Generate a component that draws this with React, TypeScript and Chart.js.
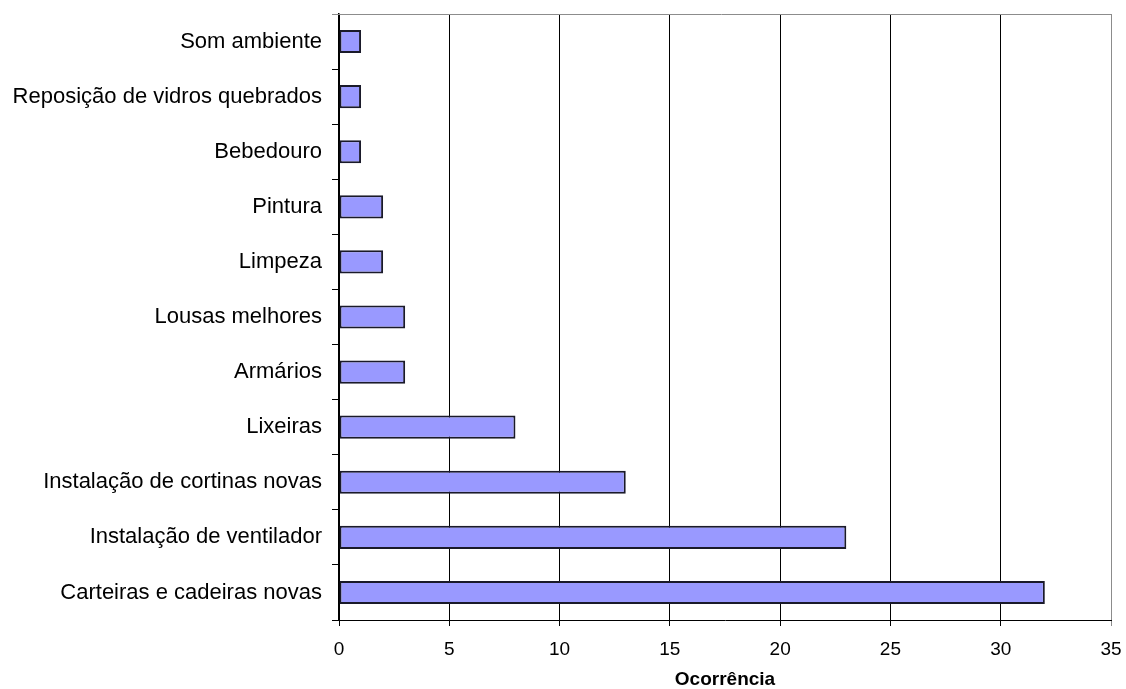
import React, { useEffect, useRef } from "react";
import { Chart, registerables } from "chart.js";

Chart.register(...registerables);

// Requested improvements and how many times each was mentioned
const categories = [
  "Som ambiente",
  "Reposição de vidros quebrados",
  "Bebedouro",
  "Pintura",
  "Limpeza",
  "Lousas melhores",
  "Armários",
  "Lixeiras",
  "Instalação de cortinas novas",
  "Instalação de ventilador",
  "Carteiras e cadeiras novas",
];

const occurrences = [1, 1, 1, 2, 2, 3, 3, 8, 13, 23, 32];

const axisMin = 0;
const axisMax = 35;
const axisStep = 5;
const axisTitle = "Ocorrência";

const FONT = "'Liberation Sans', Arial, Helvetica, sans-serif";

// Grey frame line along the top of the plot area
const topFrame = {
  id: "topFrame",
  afterDraw(chart: any) {
    const { ctx, chartArea } = chart;
    ctx.save();
    ctx.strokeStyle = "#8c8c8c";
    ctx.lineWidth = 1;
    ctx.beginPath();
    ctx.moveTo(chartArea.left - 7, Math.round(chartArea.top) + 0.5);
    ctx.lineTo(chartArea.right, Math.round(chartArea.top) + 0.5);
    ctx.stroke();
    ctx.restore();
  },
};

export default function App() {
  const canvasRef = useRef<HTMLCanvasElement | null>(null);

  useEffect(() => {
    const canvas = canvasRef.current;
    if (!canvas) return;
    const chart = new Chart(canvas, {
      type: "bar",
      data: {
        labels: categories,
        datasets: [
          {
            data: occurrences,
            backgroundColor: "#9999ff",
            borderColor: "#1a1a2a",
            borderWidth: 2,
            borderSkipped: false,
            categoryPercentage: 1,
            barPercentage: 0.42,
          },
        ],
      },
      options: {
        indexAxis: "y",
        animation: false,
        responsive: false,
        maintainAspectRatio: false,
        layout: { padding: { top: 14, right: 15, left: 0, bottom: 0 } },
        plugins: {
          legend: { display: false },
          tooltip: { enabled: false },
        },
        scales: {
          x: {
            type: "linear",
            min: axisMin,
            max: axisMax,
            afterFit(scale: any) {
              scale.height = 69;
              scale.paddingLeft = 0;
              scale.paddingRight = 0;
            },
            ticks: {
              stepSize: axisStep,
              color: "#000",
              padding: 12,
              font: { family: FONT, size: 19 },
            },
            grid: {
              color: (c: any) => (c.tick && c.tick.value === axisMax ? "#8c8c8c" : "#000"),
              lineWidth: 1,
              tickLength: 6,
            },
            border: { display: true, color: "#000", width: 1 },
            title: {
              display: true,
              text: axisTitle,
              color: "#000",
              font: { family: FONT, size: 19, weight: "bold", lineHeight: 1 },
              padding: { top: 0, bottom: 0 },
            },
          },
          y: {
            afterFit(scale: any) {
              scale.width = 339;
              scale.paddingTop = 0;
              scale.paddingBottom = 0;
            },
            ticks: {
              color: "#000",
              padding: 10,
              font: { family: FONT, size: 22 },
            },
            grid: {
              offset: true,
              drawOnChartArea: false,
              drawTicks: true,
              tickLength: 7,
              color: "#000",
            },
            border: { display: true, color: "#000", width: 1.5 },
          },
        },
      },
      plugins: [topFrame],
    });
    return () => chart.destroy();
  }, []);

  return (
    <div
      style={{
        position: "absolute",
        left: 0,
        top: 0,
        width: 1126,
        height: 689,
        background: "#fff",
      }}
    >
      <canvas ref={canvasRef} width={1126} height={689} />
    </div>
  );
}
